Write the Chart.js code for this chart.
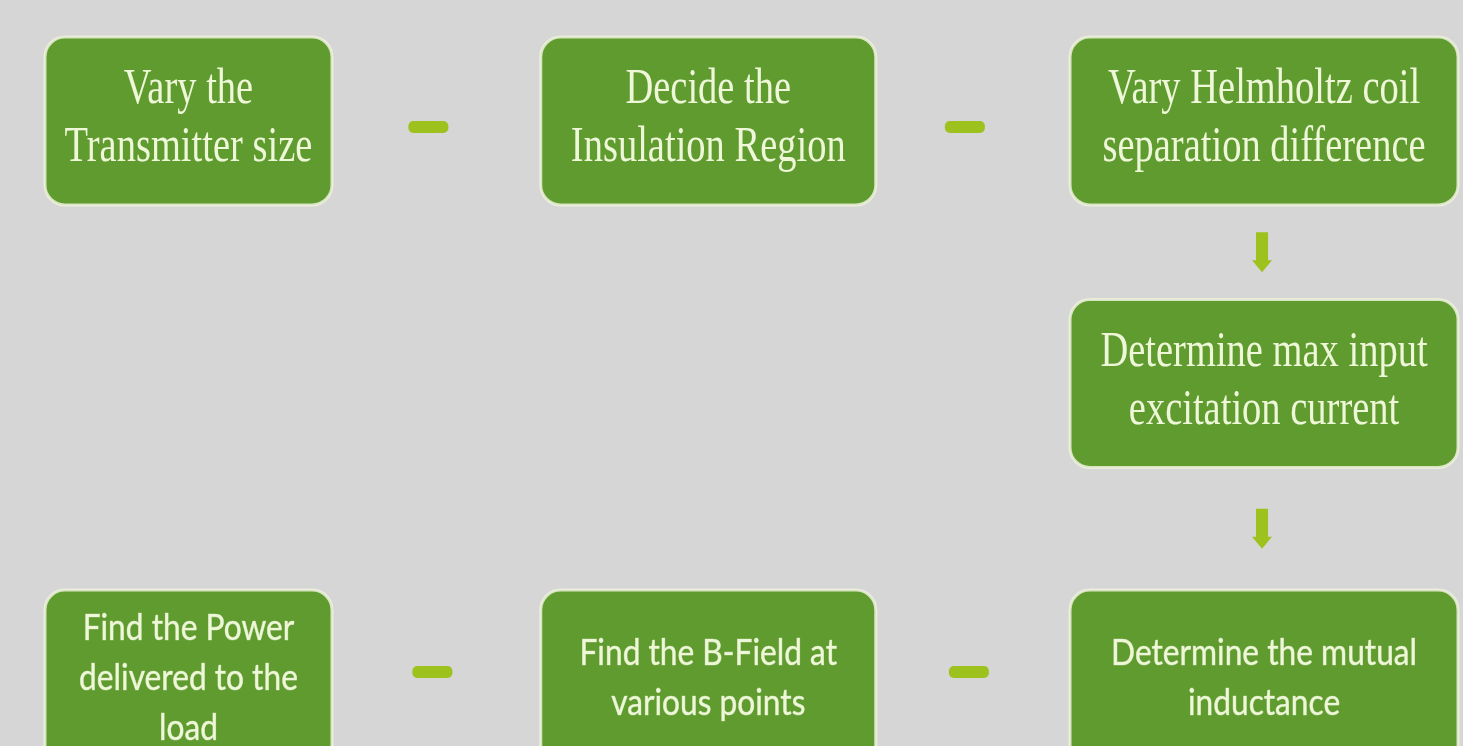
<!DOCTYPE html>
<html>
<head>
<meta charset="utf-8">
<script src="https://cdn.jsdelivr.net/npm/chart.js@4"></script>
<style>
  html, body { margin: 0; padding: 0; background: #d6d6d6; }
  #wrap { width: 1463px; height: 746px; position: relative; }
</style>
</head>
<body>
<div id="wrap"><canvas id="flow"></canvas></div>
<script>
  // Flow steps
  const stepLines = [
    ['Vary the', 'Transmitter size'],
    ['Decide the', 'Insulation Region'],
    ['Vary Helmholtz coil', 'separation difference'],
    ['Determine max input', 'excitation current'],
    ['Determine the mutual', 'inductance'],
    ['Find the B-Field at', 'various points'],
    ['Find the Power', 'delivered to the', 'load']
  ]
  const stepCol = [0, 1, 2, 2, 2, 1, 0]
  const stepRow = [0, 0, 0, 1, 2, 2, 2]
  const links = [[0, 1], [1, 2], [2, 3], [3, 4], [4, 5], [5, 6]]

  const flowPlugin = {
    id: 'flowBoxes',
    afterDatasetsDraw(chart, args, opts) {
      const ctx = chart.ctx
      const meta = chart.getDatasetMeta(0)
      const rects = meta.data.map((pt, i) => {
        const c = stepCol[i], r = stepRow[i]
        const cx = pt.x + opts.colShift[c]
        const cy = pt.y + opts.rowShift[r]
        const w = opts.colWidth[c], h = opts.rowHeight[r]
        return { cx, cy, w, h, l: cx - w / 2, r: cx + w / 2, t: cy - h / 2, b: cy + h / 2 }
      })

      // boxes
      rects.forEach((b, i) => {
        ctx.save()
        ctx.beginPath()
        ctx.roundRect(b.l, b.t, b.w, b.h, 20)
        ctx.fillStyle = '#5f9b2f'
        ctx.fill()
        ctx.lineWidth = 3
        ctx.strokeStyle = 'rgba(238,242,220,0.85)'
        ctx.stroke()
        ctx.restore()

        const row = stepRow[i]
        const f = row < 2 ? opts.serif : opts.sans
        const lines = stepLines[i]
        const y0 = b.cy + f.dy - (lines.length - 1) * f.lineHeight / 2
        ctx.save()
        ctx.fillStyle = '#eef7d8'
        ctx.strokeStyle = 'rgba(238,247,216,0.6)'
        ctx.lineWidth = f.stroke
        ctx.font = f.font
        ctx.textAlign = 'center'
        ctx.textBaseline = 'middle'
        lines.forEach((ln, k) => {
          ctx.save()
          ctx.translate(b.cx, y0 + k * f.lineHeight)
          ctx.scale(f.squeeze, 1)
          ctx.fillText(ln, 0, 0)
          if (f.stroke) ctx.strokeText(ln, 0, 0)
          ctx.restore()
        })
        ctx.restore()
      })

      // arrows
      ctx.save()
      ctx.fillStyle = '#9dc11d'
      links.forEach(([a, b]) => {
        const A = rects[a], B = rects[b]
        ctx.beginPath()
        if (stepRow[a] === stepRow[b]) {
          const dir = B.cx > A.cx ? 1 : -1
          const x = dir > 0 ? (A.r + B.l) / 2 - 8 : (B.r + A.l) / 2 - 4
          const y = A.cy + opts.arrowDy[stepRow[a]]
          const len = 40, th = 12
          ctx.roundRect(x - len / 2, y - th / 2, len, th, 5)
          ctx.fill()
        } else {
          const x = A.cx - 2
          const y = (A.b + B.t) / 2
          const len = 40, th = 12
          ctx.rect(x - th / 2, y - len / 2, th, len - 10)
          ctx.moveTo(x - 10, y + len / 2 - 12)
          ctx.lineTo(x + 10, y + len / 2 - 12)
          ctx.lineTo(x, y + len / 2)
          ctx.closePath()
          ctx.fill()
        }
      })
      ctx.restore()
    }
  }

  new Chart(document.getElementById('flow'), {
    type: 'scatter',
    data: {
      datasets: [{
        data: stepCol.map((c, i) => ({ x: c, y: stepRow[i] })),
        pointRadius: 0,
        pointHoverRadius: 0
      }]
    },
    options: {
      responsive: true,
      maintainAspectRatio: false,
      animation: false,
      events: [],
      layout: { padding: 0 },
      scales: {
        x: { type: 'linear', display: false, min: -0.3505, max: 2.370 },
        y: { type: 'linear', display: false, reverse: true, min: -0.4329, max: 2.2361 }
      },
      plugins: {
        legend: { display: false },
        tooltip: { enabled: false },
        flowBoxes: {
          colShift: [0, -18, 0],
          rowShift: [0, -17, 0],
          colWidth: [287, 335, 388],
          rowHeight: [168, 168, 180],
          arrowDy: [6, 0, -8],
          serif: { font: '50px "Liberation Serif"', squeeze: 0.77, lineHeight: 58, dy: -2, stroke: 0 },
          sans: { font: '36px Lato', squeeze: 0.88, lineHeight: 50, dy: -2, stroke: 0.7 }
        }
      }
    },
    plugins: [flowPlugin]
  })
</script>
</body>
</html>
